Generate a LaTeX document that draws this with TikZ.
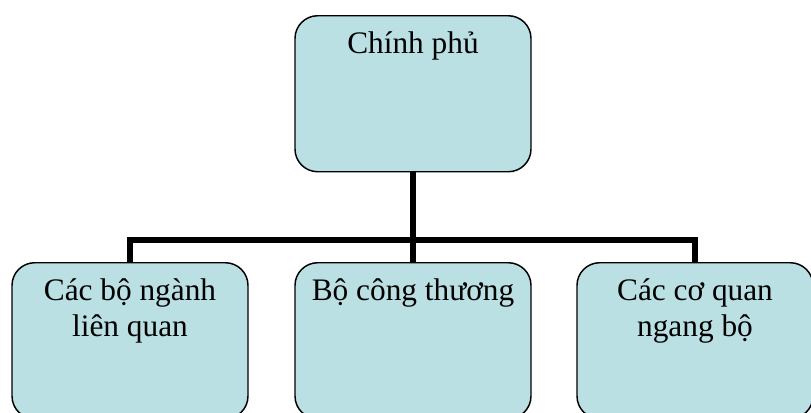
\documentclass[tikz,border=0pt]{standalone}
\usepackage{fontspec}
\setmainfont{Liberation Serif}
\definecolor{boxfill}{RGB}{186,224,228}
\newcommand{\toprule}{\rule{0pt}{24pt}}
\begin{document}
\begin{tikzpicture}[x=0.75pt,y=-0.75pt,
  box/.style={draw=black,line width=1.1pt,fill=boxfill,rounded corners=17pt,
    minimum width=177pt,minimum height=117pt,anchor=north,inner sep=0pt},
  boxtext/.style={anchor=north,align=center,font=\fontsize{23.5}{27.5}\selectfont,inner sep=0pt},
  conn/.style={draw=black,line width=4.5pt,line join=miter}]
\useasboundingbox (0,0) rectangle (811,412);
\clip (0,0) rectangle (811,412);
\node[box] (top) at (413,15) {};
\node[box] (l) at (130,262) {};
\node[box] (m) at (413,262) {};
\node[box] (r) at (695,262) {};
\coordinate (bus) at (413,240);
\draw[conn] (top.south) -- (m.north);
\draw[conn] (l.north) |- (bus) -| (r.north);
\node[boxtext] (ttop) at ([yshift=-4.5pt]top.north) {\toprule Chính phủ};
\node[boxtext] (tl) at ([yshift=-4.5pt]l.north) {\toprule Các bộ ngành\\liên quan};
\node[boxtext] (tm) at ([yshift=-4.5pt]m.north) {\toprule Bộ công thương};
\node[boxtext] (tr) at ([yshift=-4.5pt]r.north) {\toprule Các cơ quan\\ngang bộ};
\end{tikzpicture}
\end{document}
